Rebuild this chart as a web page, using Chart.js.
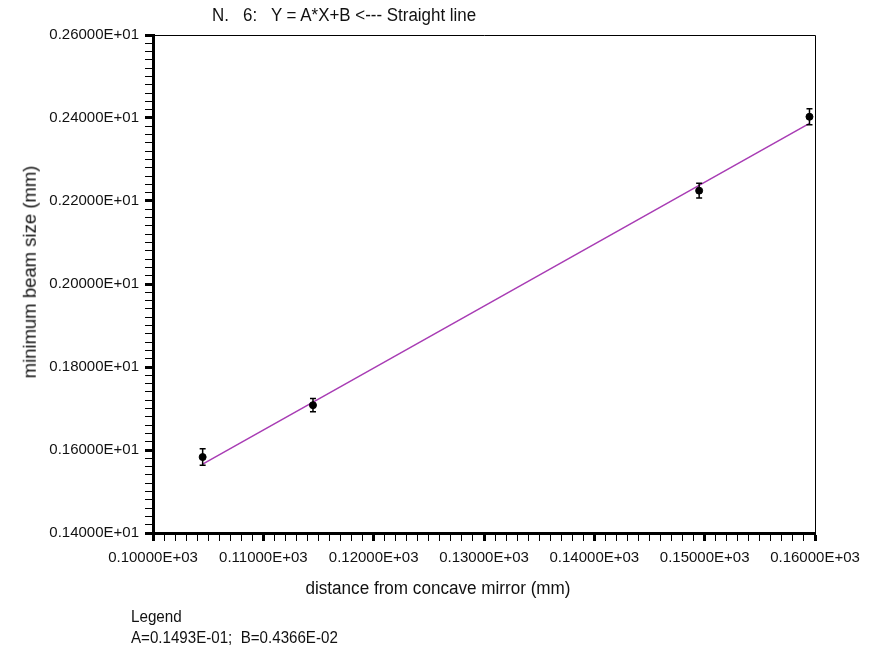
<!DOCTYPE html>
<html>
<head>
<meta charset="utf-8">
<script src="https://cdn.jsdelivr.net/npm/chart.js@4/dist/chart.umd.min.js"></script>
<style>
body { margin: 0; background: #fff; }
#wrap { position: relative; width: 873px; height: 650px; font-family: "Liberation Sans", Arial, sans-serif; color: #111; }
#chart { position: absolute; left: 0; top: 0; }
.txt { position: absolute; white-space: pre; line-height: 1; }
</style>
</head>
<body>
<div id="wrap">
    <canvas id="chart" width="873" height="650"></canvas>
    <div class="txt" style="left:212px; top:6px; font-size:18px; transform-origin: 0 0; transform: scaleX(0.94);">N.   6:   Y = A*X+B &lt;--- Straight line</div>
    <div class="txt" style="left:30px; top:272px; font-size:18.5px; transform: translate(-50%, -50%) rotate(-90deg);">minimum beam size (mm)</div>
    <div class="txt" style="left:438px; top:588px; font-size:18px; transform: translate(-50%, -50%) scaleX(0.95);">distance from concave mirror (mm)</div>
    <div class="txt" style="left:131px; top:609px; font-size:16px; transform-origin: 0 0; transform: scaleX(0.95);">Legend</div>
    <div class="txt" style="left:131px; top:630px; font-size:16px; transform-origin: 0 0; transform: scaleX(0.945);">A=0.1493E-01;  B=0.4366E-02</div>
</div>
<script>
// measured points (distance in mm, beam size in mm)
const xMeasured = [104.5, 114.5, 149.5, 159.5];
const yMeasured = [1.583, 1.708, 2.225, 2.403];
const yError = [0.020, 0.016, 0.018, 0.019];

// fitted straight line, read at its two ends
const xFit = [104.5, 159.5];
const yFit = [1.566, 2.387];

// labelled ticks
const xMajorTicks = [100, 110, 120, 130, 140, 150, 160];
const yMajorTicks = [1.4, 1.6, 1.8, 2.0, 2.2, 2.4, 2.6];

function isMajorX(v) {
    return xMajorTicks.some(t => Math.abs(t - v) < 1e-6);
}
function isMajorY(v) {
    return yMajorTicks.some(t => Math.abs(t - v) < 1e-6);
}

const errorBars = {
    id: 'errorBars',
    afterDatasetsDraw(chart) {
        const ctx = chart.ctx;
        const xs = chart.scales.x, ys = chart.scales.y;
        ctx.save();
        ctx.strokeStyle = '#000';
        ctx.lineWidth = 1.5;
        for (let i = 0; i < xMeasured.length; i++) {
            const px = xs.getPixelForValue(xMeasured[i]);
            const top = ys.getPixelForValue(yMeasured[i] + yError[i]);
            const bot = ys.getPixelForValue(yMeasured[i] - yError[i]);
            ctx.beginPath();
            ctx.moveTo(px, top); ctx.lineTo(px, bot);
            ctx.moveTo(px - 3, top); ctx.lineTo(px + 3, top);
            ctx.moveTo(px - 3, bot); ctx.lineTo(px + 3, bot);
            ctx.stroke();
        }
        ctx.restore();
    }
};

const frame = {
    id: 'frame',
    afterDraw(chart) {
        const a = chart.chartArea;
        const ctx = chart.ctx;
        ctx.save();
        ctx.strokeStyle = '#000';
        ctx.lineWidth = 1;
        ctx.beginPath();
        ctx.moveTo(a.left, a.top + 0.5);
        ctx.lineTo(a.right + 0.5, a.top + 0.5);
        ctx.lineTo(a.right + 0.5, a.bottom);
        ctx.stroke();
        ctx.restore();
    }
};

const canvas = document.getElementById('chart').getContext('2d');
const tickFont = { family: "'Liberation Sans', Arial, sans-serif", size: 15 };

new Chart(canvas, {
    type: 'scatter',
    data: {
        datasets: [{
            label: 'fit',
            data: xFit.map((x, i) => ({ x: x, y: yFit[i] })),
            showLine: true,
            borderColor: '#a83cb4',
            borderWidth: 1.5,
            pointRadius: 0,
            order: 2
        }, {
            label: 'measured',
            data: xMeasured.map((x, i) => ({ x: x, y: yMeasured[i] })),
            showLine: false,
            pointRadius: 3.5,
            backgroundColor: '#000',
            borderColor: '#000',
            order: 1
        }]
    },
    options: {
        responsive: false,
        animation: false,
        layout: { padding: { left: 0, top: 35, right: 58, bottom: 57 } },
        plugins: {
            legend: { display: false },
            tooltip: { enabled: false }
        },
        scales: {
            x: {
                type: 'linear',
                min: 100,
                max: 160,
                afterFit: scale => { scale.height = 60; },
                border: { display: true, color: '#000', width: 3 },
                grid: {
                    drawOnChartArea: false,
                    drawTicks: true,
                    tickLength: 8,
                    tickColor: '#000',
                    tickWidth: c => isMajorX(c.tick.value) ? 3 : 1
                },
                ticks: {
                    stepSize: 1,
                    autoSkip: false,
                    maxRotation: 0,
                    padding: 8,
                    color: '#111',
                    font: tickFont,
                    callback: v => isMajorX(v) ? (v / 1000).toFixed(5) + 'E+03' : ''
                }
            },
            y: {
                type: 'linear',
                min: 1.4,
                max: 2.6,
                afterFit: scale => { scale.width = 153; },
                border: { display: true, color: '#000', width: 3 },
                grid: {
                    drawOnChartArea: false,
                    drawTicks: true,
                    tickLength: 8,
                    tickColor: '#000',
                    tickWidth: c => isMajorY(c.tick.value) ? 3 : 1
                },
                ticks: {
                    stepSize: 0.02,
                    autoSkip: false,
                    padding: 6,
                    color: '#111',
                    font: tickFont,
                    callback: v => isMajorY(v) ? (v / 10).toFixed(5) + 'E+01' : ''
                }
            }
        }
    },
    plugins: [errorBars, frame]
});
</script>
</body>
</html>
